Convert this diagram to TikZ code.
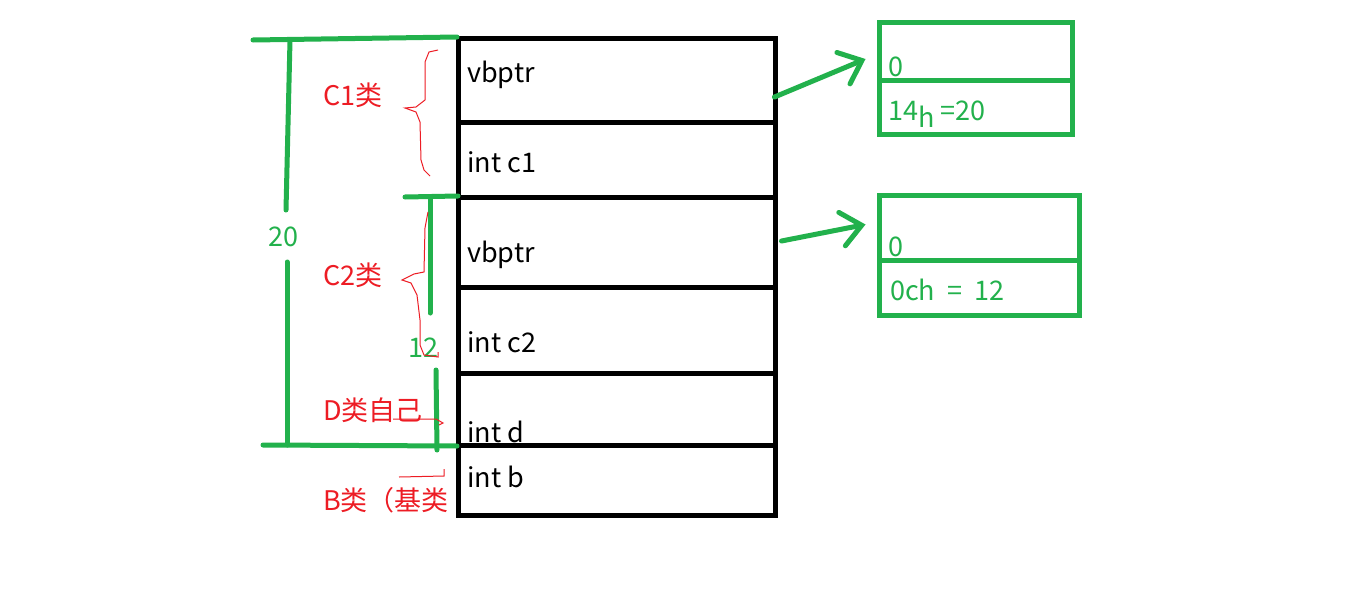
\documentclass[tikz,border=0pt]{standalone}
\usepackage{fontspec}
\setmainfont{Noto Sans CJK SC}
\usetikzlibrary{arrows.meta,calc}

\definecolor{paintgreen}{HTML}{22B14C}
\definecolor{paintred}{HTML}{ED1C24}

\tikzset{
  cell/.style={draw=black,line width=5pt,rectangle,inner sep=0pt,minimum width=317pt},
  vtcell/.style={draw=paintgreen,line width=5pt,rectangle,inner sep=0pt},
  celltext/.style={anchor=base west,inner sep=0pt,font=\fontsize{27}{30}\selectfont},
  redtext/.style={anchor=base west,inner sep=0pt,text=paintred,font=\fontsize{27}{30}\selectfont},
  greentext/.style={anchor=base west,inner sep=0pt,text=paintgreen,font=\fontsize{27}{30}\selectfont},
  measure/.style={draw=paintgreen,line width=5pt,line cap=round},
  brace/.style={draw=paintred,line width=1pt},
  pointer/.style={draw=paintgreen,line width=5pt,line cap=round,-{Straight Barb[length=20pt,width=34pt,line cap=round]}}
}

\begin{document}
\begin{tikzpicture}[x=1pt,y=-1pt]
\useasboundingbox[fill=white] (0,0) rectangle (1360,605);
% Drawing the object layout
\node[cell,minimum height=84pt] (vbA) at (616.5,80) {};
\node[cell,minimum height=75pt] (cA) at (616.5,159.5) {};
\node[cell,minimum height=90pt] (vbB) at (616.5,242) {};
\node[cell,minimum height=86pt] (cB) at (616.5,330) {};
\node[cell,minimum height=72pt] (dD) at (616.5,409) {};
\node[cell,minimum height=70pt] (bB) at (616.5,480) {};
\node[celltext] (vbAtext) at (467,82) {vbptr};
\node[celltext] (cAtext) at (467,172) {int c1};
\node[celltext] (vbBtext) at (467,262) {vbptr};
\node[celltext] (cBtext) at (467,352) {int c2};
\node[celltext] (dDtext) at (467,442) {int d};
\node[celltext] (bBtext) at (467,487) {int b};
% Done with layout; drawing the vbtables
\node[vtcell,minimum width=193pt,minimum height=58pt] (vtA0) at (975.5,51) {};
\node[vtcell,minimum width=193pt,minimum height=54pt] (vtA1) at (975.5,107) {};
\node[vtcell,minimum width=200pt,minimum height=65pt] (vtB0) at (979,227.5) {};
\node[vtcell,minimum width=200pt,minimum height=55pt] (vtB1) at (979,287.5) {};
\node[greentext] (vtA0text) at (888,76) {0};
\node[greentext] (vtA1text) at (888,120) {14\raisebox{-7pt}{h} =20};
\node[greentext] (vtB0text) at (888,256) {0};
\node[greentext] (vtB1text) at (890,300) {0ch\hspace{6pt} =\hspace{6pt} 12};
% Line: vbptr -> vbtable
\draw[pointer] ($(vbA.east)+(-3,17)$) -- ($(vtA0.west)+(-11,8)$);
\draw[pointer] ($(vbB.east)+(4,-1)$) -- ($(vtB0.west)+(-11,-3)$);
% Done with pointers; drawing sizes
\draw[measure] (253,40) -- (457,37);
\draw[measure] (263,445) -- (457,446);
\draw[measure] (290,40) -- (286,210);
\draw[measure] (287,262) -- (287,445);
\node[greentext] (sizeD) at (268,246) {20};
\draw[measure] (405,197) -- (458,196);
\draw[measure] (430,197) -- (430,313);
\draw[measure] (436,370) -- (437,450);
\node[greentext] (sizeC) at (408,357) {12};
% Done with sizes; drawing braces and class names
\draw[brace] (438,50) -- (429,52) -- (425,62) -- (425,100) -- (416,107) -- (405,108)
  -- (416,112) -- (420,122) -- (421,160) -- (424,170) -- (430,176);
\draw[brace] (428,212) -- (425,228) -- (424,272) -- (414,274) -- (402,280)
  -- (411,283) -- (417,295) -- (420,320) -- (420,345) -- (424,355) -- (438,357) -- (438,352);
\draw[brace] (393,419) -- (436,419) -- (443,423) -- (439,425);
\draw[brace] (399,477) -- (444,476) -- (444,469);
\node[redtext] (nameCA) at (323,105) {C1类};
\node[redtext] (nameCB) at (323,285) {C2类};
\node[redtext] (nameD) at (323,420) {D类自己};
\node[redtext] (nameB) at (323,510) {B类（基类};
% Done with class names
\end{tikzpicture}
\end{document}
